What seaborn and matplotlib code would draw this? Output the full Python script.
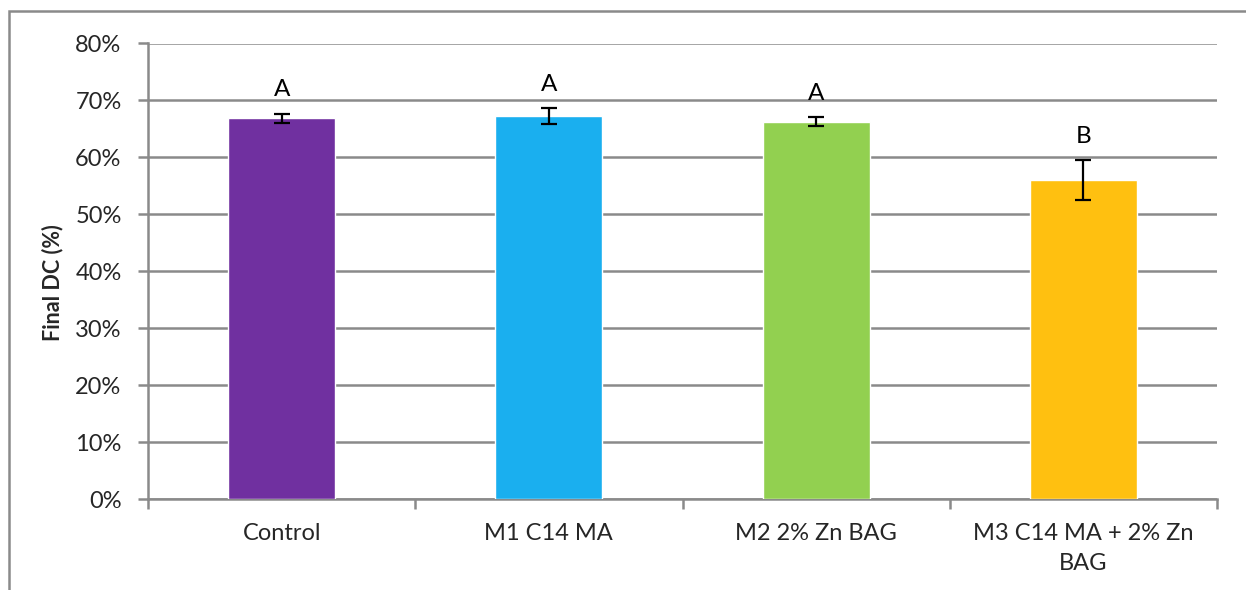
import matplotlib
matplotlib.use("Agg")
import matplotlib.pyplot as plt
from matplotlib.patches import Rectangle
from matplotlib.ticker import FuncFormatter, FixedLocator
import seaborn as sns
import pandas as pd

# Final degree of conversion per formulation
groups = ["Control", "M1 C14 MA", "M2 2% Zn BAG", "M3 C14 MA + 2% Zn\nBAG"]
final_dc = [66.9, 67.3, 66.3, 56.1]
sd = [0.8, 1.4, 0.8, 3.5]
letters = ["A", "A", "A", "B"]
colors = ["#7030A0", "#1AAFEF", "#92D050", "#FFC010"]

sns.set_theme(style="white")
plt.rcParams["font.family"] = ["Lato", "DejaVu Sans"]

df = pd.DataFrame({"group": groups, "dc": final_dc})

fig = plt.figure(figsize=(12.46, 5.90), dpi=100)
ax = fig.add_axes([148 / 1246, 1 - 499 / 590, (1217 - 148) / 1246, (499 - 43.5) / 590])

sns.barplot(data=df, x="group", y="dc", hue="group", palette=colors,
            width=0.4, legend=False, ax=ax, saturation=1, zorder=3)

xs = range(len(groups))
ax.errorbar(list(xs), final_dc, yerr=sd, fmt="none", ecolor="black",
            elinewidth=1.6, capsize=6, capthick=1.6, zorder=4)

for i, (v, e, lab) in enumerate(zip(final_dc, sd, letters)):
    ax.annotate(lab, (i, v + e), xytext=(0, 17), textcoords="offset points",
                ha="center", va="center", fontsize=17.5, color="black")

ax.set_xlim(-0.5, len(groups) - 0.5)
ax.set_ylim(0, 80)
ax.yaxis.set_major_locator(FixedLocator(range(0, 81, 10)))
ax.yaxis.set_major_formatter(FuncFormatter(lambda v, p: f"{int(v)}%"))
ax.yaxis.grid(True, color="#8a8a8a", linewidth=1.8, zorder=0)
ax.set_axisbelow(True)

for side in ("top", "right"):
    ax.spines[side].set_visible(False)
for side in ("left", "bottom"):
    ax.spines[side].set_color("#8a8a8a")
    ax.spines[side].set_linewidth(1.8)

# category-boundary ticks on x, tick marks on y
ax.set_xticks(list(xs))
ax.set_xticklabels(groups, fontsize=17, linespacing=1.55)
ax.set_xticks([i - 0.5 for i in range(len(groups) + 1)], minor=True)
ax.tick_params(axis="x", which="major", length=0, pad=17)
ax.tick_params(axis="x", which="minor", direction="out", length=7, width=1.8,
               color="#8a8a8a", bottom=True)
ax.tick_params(axis="y", direction="out", length=7, width=1.8, color="#8a8a8a",
               left=True, labelsize=17, pad=12)

ax.set_xlabel("")
ax.set_ylabel("Final DC (%)", fontsize=15.5, fontweight="bold")
ax.yaxis.set_label_coords(-0.0795, 0.475)

# outer chart frame
fig.add_artist(Rectangle((9 / 1246, -0.2), 1.5, 0.2 + 1 - 11 / 590,
                         transform=fig.transFigure, fill=False,
                         edgecolor="#8a8a8a", linewidth=1.8, clip_on=False))

fig.savefig("out.png", dpi=100)
